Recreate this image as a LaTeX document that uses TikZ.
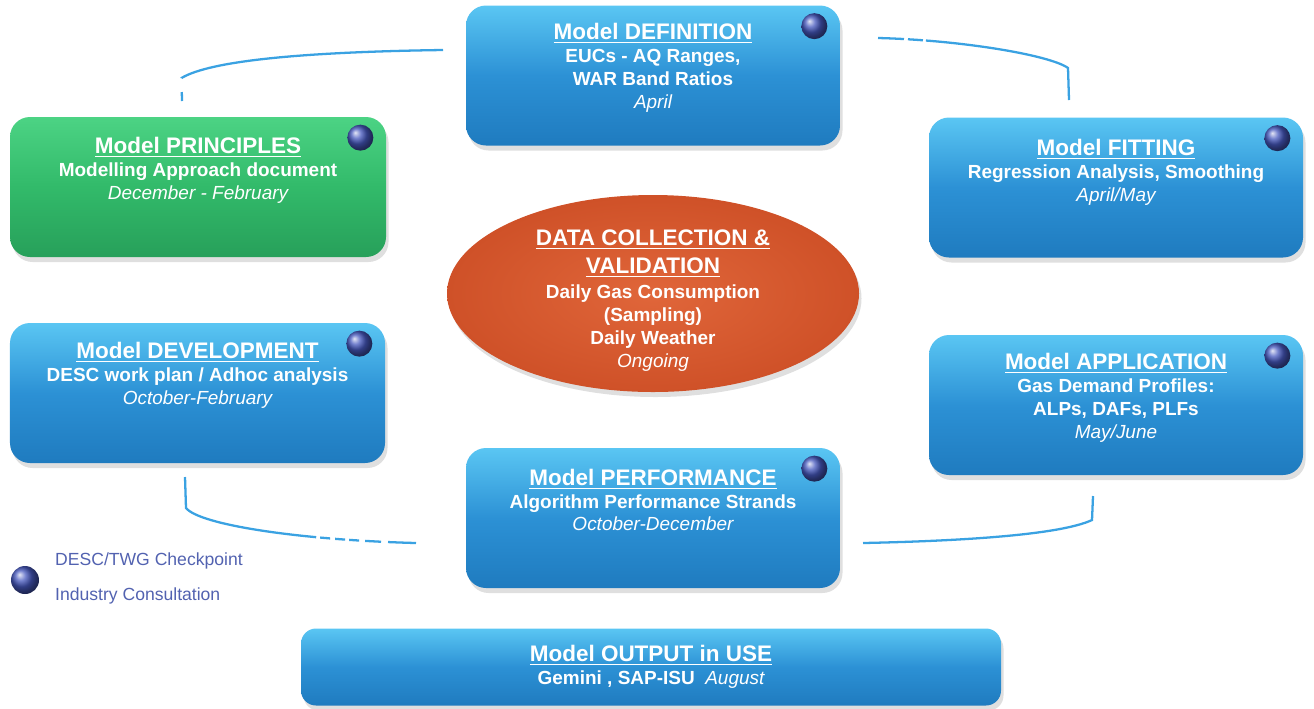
\documentclass[tikz,border=0pt]{standalone}
\usepackage{fontspec}
\setmainfont{Liberation Sans}
\usetikzlibrary{shapes.geometric,shadows,calc}

\definecolor{boxtop}{HTML}{5AC6F3}
\definecolor{boxmid}{HTML}{2C91D5}
\definecolor{boxbot}{HTML}{1F7BBF}
\definecolor{grntop}{HTML}{4CD384}
\definecolor{grnmid}{HTML}{32BA6A}
\definecolor{grnbot}{HTML}{27A05A}
\definecolor{datain}{HTML}{E0663A}
\definecolor{dataout}{HTML}{CF5128}
\definecolor{ballblue}{HTML}{4658BE}
\definecolor{linkblue}{HTML}{3AA2E2}
\definecolor{keyblue}{HTML}{5262B0}

\newcommand{\stagetitle}[1]{{\fontsize{12.8}{15}\selectfont\underline{#1}}}
\newcommand{\stagedate}[1]{{\mdseries\itshape #1}}
\newcommand{\checkball}[1]{\shade[ball color=ballblue] ($(#1.north east)+(-0.52,-0.42)$) circle (0.26);}

\tikzset{
  stage/.style={rounded corners=0.4cm, minimum width=7.48cm, minimum height=2.8cm,
    top color=boxtop, bottom color=boxbot, middle color=boxmid,
    drop shadow={opacity=0.25, shadow xshift=0.05cm, shadow yshift=-0.1cm}},
  greenstage/.style={stage, top color=grntop, bottom color=grnbot, middle color=grnmid},
  stagetext/.style={text=white, align=center, font=\bfseries\fontsize{10.8}{13}\selectfont},
  link/.style={draw=linkblue, line width=1.3pt},
  keytext/.style={text=keyblue, anchor=west, font=\fontsize{10}{12}\selectfont}
}

\begin{document}
\begin{tikzpicture}
  \useasboundingbox (0,0) rectangle (26.28,-14.16);

  % loose ends of the cycle links
  \coordinate (l1a) at (3.64,-2.02);
  \coordinate (l1b) at (8.86,-1.0);
  \coordinate (l2a) at (17.56,-0.76);
  \coordinate (l2b) at (21.38,-2.0);
  \coordinate (l3a) at (8.32,-10.86);
  \coordinate (l3b) at (3.70,-9.54);
  \coordinate (l4a) at (17.26,-10.86);
  \coordinate (l4b) at (21.86,-9.92);

  % cycle links
  \draw[link, dash pattern=on 0.18cm off 0.28cm on 20cm off 0cm]
    (l1a) -- (3.63,-1.56) .. controls (4.2,-1.22) and (6,-1.04) .. (l1b);
  \draw[link, dash pattern=on 0.52cm off 0.08cm on 0.3cm off 0.06cm on 20cm off 0cm]
    (l2a) .. controls (19.2,-0.8) and (21,-1.1) .. (21.36,-1.36) -- (l2b);
  \draw[link, dash pattern=on 0.56cm off 0.14cm on 0.32cm off 0.12cm on 0.2cm off 0.08cm on 0.2cm off 0.1cm on 0.2cm off 0.08cm on 20cm off 0cm]
    (l3a) .. controls (6,-10.8) and (4,-10.5) .. (3.72,-10.16) -- (l3b);
  \draw[link]
    (l4a) .. controls (19.2,-10.82) and (21.2,-10.7) .. (21.84,-10.4) -- (l4b);

  % stages
  \node[stage] (definition) at (13.06,-1.51) {};
  \node[greenstage, minimum width=7.52cm] (principles) at (3.96,-3.74) {};
  \node[stage] (fitting) at (22.32,-3.75) {};
  \node[stage, minimum width=7.5cm] (development) at (3.95,-7.86) {};
  \node[stage] (application) at (22.32,-8.1) {};
  \node[stage] (performance) at (13.06,-10.36) {};
  \node[stage, rounded corners=0.3cm, minimum width=14cm, minimum height=1.54cm] (output) at (13.02,-13.34) {};
  \node[ellipse, minimum width=8.24cm, minimum height=3.94cm, shading=radial,
    inner color=datain, outer color=dataout,
    drop shadow={opacity=0.25, shadow xshift=0.05cm, shadow yshift=-0.1cm}] (data) at (13.06,-5.87) {};

  % stage texts
  \node[stagetext] (definition-t) at ([yshift=0.15cm]definition.center)
    {\stagetitle{Model DEFINITION}\\ EUCs - AQ Ranges,\\ WAR Band Ratios\\ \stagedate{April}};
  \node[stagetext] (principles-t) at ([yshift=0.34cm]principles.center)
    {\stagetitle{Model PRINCIPLES}\\ Modelling Approach document\\ \stagedate{December - February}};
  \node[stagetext] (fitting-t) at ([yshift=0.3cm]fitting.center)
    {\stagetitle{Model FITTING}\\ Regression Analysis, Smoothing\\ \stagedate{April/May}};
  \node[stagetext] (development-t) at ([yshift=0.36cm]development.center)
    {\stagetitle{Model DEVELOPMENT}\\ DESC work plan / Adhoc analysis\\ \stagedate{October-February}};
  \node[stagetext] (application-t) at ([yshift=0.14cm]application.center)
    {\stagetitle{Model APPLICATION}\\ Gas Demand Profiles:\\ ALPs, DAFs, PLFs\\ \stagedate{May/June}};
  \node[stagetext] (performance-t) at ([yshift=0.36cm]performance.center)
    {\stagetitle{Model PERFORMANCE}\\ Algorithm Performance Strands\\ \stagedate{October-December}};
  \node[stagetext] (output-t) at (output.center)
    {\stagetitle{Model OUTPUT in USE}\\ Gemini , SAP-ISU\ \ \stagedate{August}};
  \node[stagetext] (data-t) at ([yshift=-0.14cm]data.center)
    {\stagetitle{DATA COLLECTION \&}\\[3pt] \stagetitle{VALIDATION}\\[1pt] Daily Gas Consumption\\ (Sampling)\\ Daily Weather\\ \stagedate{Ongoing}};

  % checkpoints
  \foreach \s in {definition,principles,fitting,development,application,performance} {
    \checkball{\s}
  }

  % key
  \shade[ball color=ballblue] (0.5,-11.6) circle (0.28);
  \node[keytext] (key1) at (0.98,-11.22) {DESC/TWG Checkpoint};
  \node[keytext] (key2) at (0.98,-11.92) {Industry Consultation};
\end{tikzpicture}
\end{document}
